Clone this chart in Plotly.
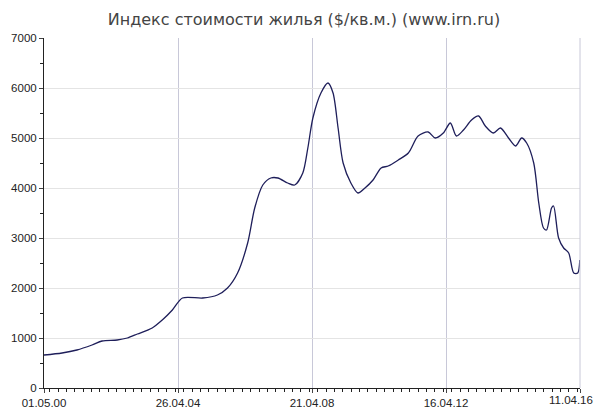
import plotly.graph_objects as go
import pandas as pd

years = [2000.33,2000.87,2001.31,2001.76,2002.06,2002.51,2002.81,2003.11,2003.55,2003.85,2004.15,2004.45,
         2005.05,2005.49,2005.79,2006.09,2006.39,2006.60,2006.84,2007.08,2007.29,2007.58,2007.79,2008.03,
         2008.18,2008.33,2008.57,2008.78,2008.93,2009.08,2009.23,2009.46,2009.67,2009.88,2010.12,2010.36,
         2010.57,2010.87,2011.17,2011.46,2011.76,2011.97,2012.21,2012.42,2012.60,2012.81,2013.05,2013.26,
         2013.46,2013.70,2013.91,2014.15,2014.36,2014.54,2014.69,2014.90,2015.05,2015.19,2015.28,2015.43,
         2015.49,2015.64,2015.79,2015.94,2016.09,2016.21,2016.27]
values = [660,700,760,860,940,960,1000,1080,1200,1360,1560,1800,
          1800,1860,2000,2300,2900,3600,4060,4200,4200,4100,4060,4300,
          4800,5400,5900,6100,5900,5200,4500,4100,3900,4000,4160,4400,
          4440,4560,4700,5040,5120,5000,5100,5300,5040,5160,5360,5440,
          5240,5100,5200,5000,4840,5000,4900,4500,3700,3200,3160,3600,
          3640,3000,2800,2700,2300,2300,2560]
tick_dates = ["2000-05-01","2004-04-26","2008-04-21","2012-04-16","2016-04-11"]
tick_labels = ["01.05.00","26.04.04","21.04.08","16.04.12","11.04.16"]

dates = [pd.Timestamp("2000-01-01") + pd.Timedelta(days=(y-2000)*365.25) for y in years]

fig = go.Figure(go.Scatter(x=dates, y=values, mode="lines",
                           line=dict(color="#1e1e5a", width=1.3, shape="spline", smoothing=0.8)))
fig.update_layout(
    width=604, height=412, margin=dict(l=36, r=32, t=30, b=32, autoexpand=False),
    paper_bgcolor="white", plot_bgcolor="white", showlegend=False,
    title=dict(text="Индекс стоимости жилья ($/кв.м.) (www.irn.ru)", x=0.49, xanchor="center",
               y=0.985, yanchor="top", font=dict(family="DejaVu Sans", size=16, color="#444")),
    font=dict(family="Liberation Sans", size=11.5, color="#222"),
)
fig.update_xaxes(type="date", range=[tick_dates[0], tick_dates[-1]], tickvals=tick_dates,
                 ticktext=tick_labels[:-1] + [""],
                 automargin=False, showgrid=True, gridcolor="#c8c8d8", showline=True, linecolor="#222",
                 ticks="outside", ticklen=4, minor=dict(ticks="outside", ticklen=3, dtick=86400000*91.0, tickcolor="#222"))
fig.update_yaxes(range=[0, 7000], dtick=1000, automargin=False, showgrid=True, gridcolor="#e4e4e4",
                 showline=True, linecolor="#222",
                 ticks="outside", ticklen=4, minor=dict(ticks="outside", ticklen=3, dtick=500, tickcolor="#222"))
fig.add_annotation(text=tick_labels[-1], xref="paper", yref="paper", x=1, y=0, xanchor="right", yanchor="top",
                   xshift=15, yshift=-4, showarrow=False, font=dict(family="Liberation Sans", size=11.5, color="#222"))
fig.add_shape(type="line", xref="paper", yref="paper", x0=1, x1=1, y0=0, y1=1,
              line=dict(color="#c8c8d8", width=1))
fig.write_html("out.html")
